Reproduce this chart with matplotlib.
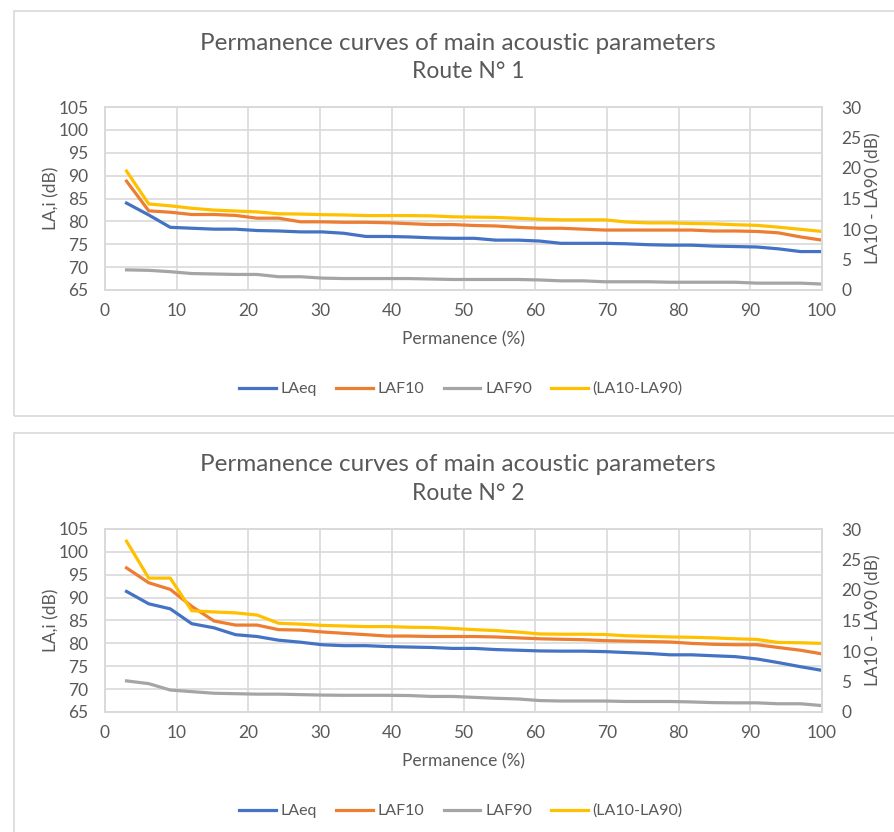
import matplotlib
matplotlib.use('Agg')
import matplotlib.pyplot as plt
from matplotlib.patches import Rectangle

plt.rcParams['font.family'] = ['Lato', 'DejaVu Sans']

# Datos
permanencia = [3.0, 6.1, 9.1, 12.1, 15.2, 18.2, 21.2, 24.2, 27.3, 30.3, 33.3,
               36.4, 39.4, 42.4, 45.5, 48.5, 51.5, 54.5, 57.6, 60.6, 63.6, 66.7,
               69.7, 72.7, 75.8, 78.8, 81.8, 84.8, 87.9, 90.9, 93.9, 97.0, 100.0]

# Ruta 1
laeq_1 = [84.0, 81.4, 78.7, 78.5, 78.3, 78.3, 78.0, 77.9, 77.7, 77.7, 77.4,
          76.7, 76.7, 76.6, 76.4, 76.3, 76.3, 75.9, 75.9, 75.7, 75.2, 75.2,
          75.2, 75.1, 74.9, 74.8, 74.8, 74.6, 74.5, 74.4, 74.0, 73.4, 73.4]
laf10_1 = [88.8, 82.3, 82.0, 81.5, 81.5, 81.3, 80.7, 80.7, 79.9, 79.9, 79.8,
           79.8, 79.7, 79.5, 79.3, 79.3, 79.1, 79.0, 78.7, 78.5, 78.5, 78.3,
           78.1, 78.1, 78.1, 78.1, 78.1, 77.9, 77.9, 77.8, 77.5, 76.6, 75.9]
laf90_1 = [69.4, 69.3, 69.0, 68.6, 68.5, 68.4, 68.4, 67.9, 67.9, 67.6, 67.5,
           67.5, 67.5, 67.5, 67.4, 67.3, 67.3, 67.3, 67.3, 67.2, 67.0, 67.0,
           66.8, 66.8, 66.8, 66.7, 66.7, 66.7, 66.7, 66.5, 66.5, 66.5, 66.3]
dif_1 = [19.5, 14.1, 13.8, 13.4, 13.1, 12.95, 12.8, 12.5, 12.45, 12.35, 12.3,
         12.2, 12.2, 12.2, 12.15, 12.0, 11.95, 11.9, 11.75, 11.6, 11.5, 11.5,
         11.5, 11.15, 11.0, 11.0, 10.9, 10.85, 10.7, 10.6, 10.3, 9.95, 9.6]

# Ruta 2
laeq_2 = [91.35, 88.65, 87.55, 84.3, 83.4, 81.9, 81.5, 80.7, 80.25, 79.7, 79.5,
          79.5, 79.3, 79.2, 79.1, 78.9, 78.9, 78.65, 78.5, 78.35, 78.3, 78.3,
          78.2, 78.0, 77.8, 77.5, 77.5, 77.3, 77.1, 76.6, 75.8, 74.9, 74.1]
laf10_2 = [96.5, 93.25, 91.8, 88.1, 84.9, 84.0, 84.0, 83.0, 82.9, 82.5, 82.2,
           81.9, 81.6, 81.6, 81.5, 81.5, 81.5, 81.4, 81.2, 81.0, 80.9, 80.8,
           80.6, 80.5, 80.4, 80.3, 80.0, 79.8, 79.7, 79.7, 79.1, 78.5, 77.7]
laf90_2 = [71.8, 71.2, 69.8, 69.45, 69.1, 69.0, 68.9, 68.9, 68.8, 68.7, 68.65,
           68.65, 68.65, 68.6, 68.4, 68.4, 68.2, 68.0, 67.85, 67.5, 67.4, 67.4,
           67.4, 67.3, 67.3, 67.3, 67.2, 67.05, 67.0, 67.0, 66.8, 66.8, 66.4]
dif_2 = [28.0, 21.95, 21.95, 16.6, 16.4, 16.25, 15.9, 14.55, 14.4, 14.2, 14.1,
         14.0, 14.0, 13.9, 13.85, 13.7, 13.5, 13.35, 13.1, 12.8, 12.75, 12.75,
         12.7, 12.5, 12.4, 12.3, 12.25, 12.15, 12.0, 11.9, 11.4, 11.35, 11.25]

titulo = 'Permanence curves of main acoustic parameters'
subtitulos = ['Route N° 1', 'Route N° 2']

# Colores estilo Excel
azul = '#4472C4'
naranja = '#ED7D31'
gris = '#A5A5A5'
amarillo = '#FFC000'
texto = '#595959'
rejilla = '#D9D9D9'

W, H = 894, 832
fig = plt.figure(figsize=(W / 100, H / 100), dpi=100)


def grafica(top_px, laeq, laf10, laf90, dif, subtitulo):
    # top_px: borde superior del area de trazado, en pixeles
    fig.add_artist(Rectangle((14 / W, 1 - (top_px + 309) / H), 1.2, 405 / H,
                             transform=fig.transFigure, fill=False,
                             edgecolor='#D9D9D9', lw=1.2))
    ax = fig.add_axes([105 / W, 1 - (top_px + 183) / H, 717 / W, 183 / H])
    ax2 = ax.twinx()

    l1, = ax.plot(permanencia, laeq, color=azul, lw=2.3, label='LAeq')
    l2, = ax.plot(permanencia, laf10, color=naranja, lw=2.3, label='LAF10')
    l3, = ax.plot(permanencia, laf90, color=gris, lw=2.3, label='LAF90')
    l4, = ax2.plot(permanencia, dif, color=amarillo, lw=2.3, label='(LA10-LA90)')

    ax.set_xlim(0, 100)
    ax.set_ylim(65, 105)
    ax2.set_ylim(0, 30)
    ax.set_xticks(range(0, 101, 10))
    ax.set_yticks(range(65, 106, 5))
    ax2.set_yticks(range(0, 31, 5))
    ax.grid(True, color=rejilla, lw=1.2)
    ax.set_axisbelow(True)
    for a in (ax, ax2):
        for s in a.spines.values():
            s.set_color(rejilla)
            s.set_linewidth(1.2)
        a.tick_params(length=0, labelsize=12.5, labelcolor=texto)
    ax.tick_params(axis='y', pad=12)
    ax.tick_params(axis='x', pad=9)
    ax2.tick_params(axis='y', pad=14)

    ax.set_xlabel('Permanence (%)', fontsize=12.5, color=texto, labelpad=9)
    ax.set_ylabel('LA,i (dB)', fontsize=12.5, color=texto, labelpad=-1)
    ax2.set_ylabel('LA10 - LA90 (dB)', fontsize=12.5, color=texto, labelpad=3)

    fig.text(458 / W, 1 - (top_px - 64) / H, titulo, ha='center', va='center',
             fontsize=17.5, color=texto)
    fig.text(468 / W, 1 - (top_px - 35) / H, subtitulo, ha='center', va='center',
             fontsize=16.5, color=texto)
    fig.legend(handles=[l1, l2, l3, l4], loc='center',
               bbox_to_anchor=(461 / W, 1 - (top_px + 282) / H), ncol=4,
               frameon=False, fontsize=11.5, labelcolor=texto,
               handlelength=2.3, handletextpad=0.3, columnspacing=1.2)


grafica(107, laeq_1, laf10_1, laf90_1, dif_1, subtitulos[0])
grafica(529, laeq_2, laf10_2, laf90_2, dif_2, subtitulos[1])

fig.savefig('out.png', dpi=100)
